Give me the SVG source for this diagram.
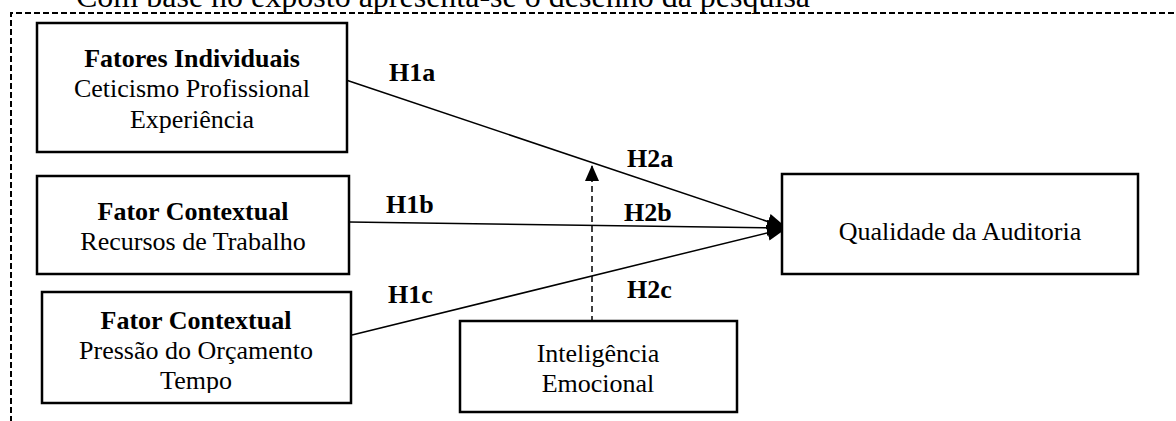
<svg xmlns="http://www.w3.org/2000/svg" width="1176" height="421" viewBox="0 0 1176 421">
<defs>
<style>
text{font-family:"Liberation Serif","Times New Roman",serif;fill:#000}
.t{font-size:26px;text-anchor:middle}
.b{font-weight:bold}
.lbl{font-size:26px;font-weight:bold}
.box{fill:#fff;stroke:#000;stroke-width:2.5}
.ln{stroke:#000;stroke-width:1.5;fill:none}
.dash{stroke:#000;stroke-width:1.5;fill:none;stroke-dasharray:6,4}
</style>
<marker id="ah" viewBox="0 0 20 16" refX="20" refY="8" markerWidth="20" markerHeight="16" markerUnits="userSpaceOnUse" orient="auto">
<path d="M0,0 L20,8 L0,16 z" fill="#000"/>
</marker>
<marker id="ah2" viewBox="0 0 16 14" refX="16" refY="7" markerWidth="16" markerHeight="14" markerUnits="userSpaceOnUse" orient="auto">
<path d="M0,0 L16,7 L0,14 z" fill="#000"/>
</marker>
<clipPath id="c3"><rect x="42" y="292" width="309" height="101"/></clipPath>
</defs>
<rect width="1176" height="421" fill="#fff"/>
<text x="76" y="7" style="font-size:32px">Com base no exposto apresenta-se o desenho da pesquisa</text>
<path d="M11,440 L11,13 L1190,13" fill="none" stroke="#000" stroke-width="2" stroke-dasharray="6,3"/>
<g id="connectors">
<line class="ln" x1="346" y1="80" x2="787" y2="228" marker-end="url(#ah)"/>
<line class="ln" x1="349" y1="222" x2="787" y2="228" marker-end="url(#ah)"/>
<line class="ln" x1="352" y1="335" x2="787" y2="228" marker-end="url(#ah)"/>
<line class="dash" x1="592" y1="322" x2="592" y2="165" marker-end="url(#ah2)"/>
<text class="lbl" x="389" y="81">H1a</text>
<text class="lbl" x="386" y="213">H1b</text>
<text class="lbl" x="388" y="303">H1c</text>
<text class="lbl" x="627" y="167">H2a</text>
<text class="lbl" x="624" y="221">H2b</text>
<text class="lbl" x="627" y="298">H2c</text>
</g>
<g id="fatores-individuais">
<rect class="box" x="37" y="23" width="310" height="129"/>
<text class="t b" x="192" y="67">Fatores Individuais</text>
<text class="t" x="192" y="97">Ceticismo Profissional</text>
<text class="t" x="192" y="128">Experiência</text>
</g>
<g id="recursos-trabalho">
<rect class="box" x="37" y="176" width="312" height="98"/>
<text class="t b" x="193" y="220">Fator Contextual</text>
<text class="t" x="193" y="250">Recursos de Trabalho</text>
</g>
<g id="pressao-orcamento">
<rect class="box" x="42" y="292" width="309" height="111"/>
<text class="t b" x="196" y="329">Fator Contextual</text>
<text class="t" x="196" y="359">Pressão do Orçamento</text>
<text class="t" x="196" y="389" clip-path="url(#c3)">Tempo</text>
</g>
<g id="inteligencia-emocional">
<rect class="box" x="460" y="321" width="277" height="91"/>
<text class="t" x="598" y="362">Inteligência</text>
<text class="t" x="598" y="392">Emocional</text>
</g>
<g id="qualidade-auditoria">
<rect class="box" x="782" y="174" width="356" height="100"/>
<text class="t" x="960" y="240">Qualidade da Auditoria</text>
</g>
</svg>
